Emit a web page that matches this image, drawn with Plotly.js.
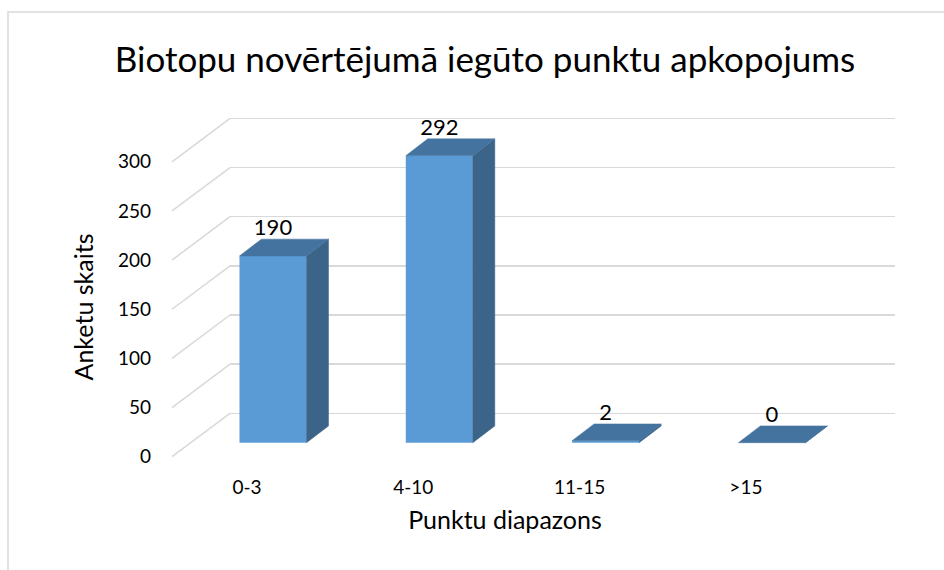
<!DOCTYPE html>
<html>
<head>
<meta charset="utf-8">
<script src="https://cdn.plot.ly/plotly-3.0.1.min.js"></script>
<style>html,body{margin:0;padding:0;background:#fff;}#chart{width:944px;height:570px;}</style>
</head>
<body>
<div id="chart"></div>
<script>
// ---- data ----
const categories = ['0-3', '4-10', '11-15', '>15'];
const counts = [190, 292, 2, 0];
const yTickVals = [0, 50, 100, 150, 200, 250, 300];
const chartTitle = 'Biotopu novērtējumā iegūto punktu apkopojums';
const xTitle = 'Punktu diapazons';
const yTitle = 'Anketu skaits';

// ---- geometry (px) ----
const W = 944, H = 570;
const pxPerUnit = 0.983;
const barStep = 166.3;
const barCenter0 = 273;      // px of first bar front-face centre
const barZeroPx = 442.7;     // px of value 0 in the bar front plane
const frontZeroPx = 456.7;   // px of value 0 at the front edge (tick labels)
const backZeroPx = 413.3;    // px of value 0 on the back wall
const frontXpx = 172, backXpx = 230, backRightPx = 895;
const labelCenter0 = 247;
const barWidth = 0.403;
const depthDx = 22 / barStep;            // bar depth (x units)
const depthDy = 16.8 / pxPerUnit;        // bar depth (value units)

const FONT = 'Lato, "Open Sans", sans-serif';
const front = '#5B9BD5', sideC = '#3C6488', topC = '#44739F';

const traces = [];
// invisible trace on back wall subplot
traces.push({x: [0.5], y: [0], xaxis: 'x', yaxis: 'y', mode: 'markers', marker: {opacity: 0}, hoverinfo: 'skip', showlegend: false});

// diagonal lines (side wall grid) in bar plane coordinates
const xF = (frontXpx - barCenter0) / barStep, xB = (backXpx - barCenter0) / barStep;
const offF = (barZeroPx - frontZeroPx) / pxPerUnit, offB = (barZeroPx - backZeroPx) / pxPerUnit;
const dX = [], dY = [];
yTickVals.forEach(t => { dX.push(xF, xB, null); dY.push(t + offF, t + offB, null); });
traces.push({x: dX, y: dY, xaxis: 'x2', yaxis: 'y2', mode: 'lines', line: {color: '#D9D9D9', width: 1.5}, hoverinfo: 'skip', showlegend: false});

// front faces
traces.push({type: 'bar', x: categories.map((c, i) => i), y: counts, width: barWidth, xaxis: 'x2', yaxis: 'y2',
  marker: {color: front, line: {width: 0}}, hoverinfo: 'skip', showlegend: false});

// side and top faces
counts.forEach((v, i) => {
  const r = i + barWidth / 2, l = i - barWidth / 2;
  traces.push({x: [r, r, r + depthDx, r + depthDx, r], y: [0, v, v + depthDy, depthDy, 0], xaxis: 'x2', yaxis: 'y2',
    mode: 'lines', fill: 'toself', fillcolor: sideC, line: {width: 0.5, color: sideC}, hoverinfo: 'skip', showlegend: false});
  traces.push({x: [l, r, r + depthDx, l + depthDx, l], y: [v, v, v + depthDy, v + depthDy, v], xaxis: 'x2', yaxis: 'y2',
    mode: 'lines', fill: 'toself', fillcolor: topC, line: {width: 0.5, color: topC}, hoverinfo: 'skip', showlegend: false});
});

// data labels
traces.push({x: categories.map((c, i) => i), y: counts.map(v => v + 27), text: counts.map(String), mode: 'text',
  textposition: 'middle center', textfont: {family: FONT, size: 22, color: '#000'}, xaxis: 'x2', yaxis: 'y2', hoverinfo: 'skip', showlegend: false});

// invisible trace on label axes
traces.push({x: [0], y: [0], xaxis: 'x3', yaxis: 'y3', mode: 'markers', marker: {opacity: 0}, hoverinfo: 'skip', showlegend: false});

const hidden = {showgrid: false, zeroline: false, showline: false, showticklabels: false, ticks: '', fixedrange: true};
const xDomL = 66;
const yDomTopPx = 44;

const layout = {
  width: W, height: H,
  margin: {l: 0, r: 0, t: 0, b: 0, pad: 0},
  paper_bgcolor: '#fff', plot_bgcolor: 'rgba(0,0,0,0)',
  font: {family: FONT, color: '#000'},
  showlegend: false,
  title: {text: chartTitle, x: 485 / W, xref: 'paper', xanchor: 'center', y: 1 - 60 / H, yref: 'paper', yanchor: 'middle',
    font: {family: FONT, size: 35, color: '#000'}},
  // back wall
  xaxis: Object.assign({}, hidden, {domain: [backXpx / W, backRightPx / W], range: [0, 1], anchor: 'y'}),
  yaxis: {domain: [0, 1], anchor: 'x', range: [(backZeroPx - H) / pxPerUnit, backZeroPx / pxPerUnit],
    tickmode: 'array', tickvals: yTickVals, showgrid: true, gridcolor: '#D9D9D9', gridwidth: 1.5,
    zeroline: false, showline: false, showticklabels: false, ticks: '', fixedrange: true},
  // bars plane
  xaxis2: Object.assign({}, hidden, {domain: [0, 1], anchor: 'y2', range: [-barCenter0 / barStep, (W - barCenter0) / barStep]}),
  yaxis2: Object.assign({}, hidden, {domain: [0, 1], anchor: 'x2', range: [(barZeroPx - H) / pxPerUnit, barZeroPx / pxPerUnit]}),
  // label axes
  xaxis3: {domain: [xDomL / W, 1], anchor: 'free', position: 1 - 474 / H,
    range: [(xDomL - labelCenter0) / barStep, (W - labelCenter0) / barStep],
    tickmode: 'array', tickvals: categories.map((c, i) => i), ticktext: categories,
    showgrid: false, zeroline: false, showline: false, ticks: '', automargin: false, fixedrange: true,
    tickfont: {family: FONT, size: 19, color: '#000'},
    title: {text: xTitle, standoff: 14, font: {family: FONT, size: 25, color: '#000'}}},
  yaxis3: {domain: [0, 1 - yDomTopPx / H], anchor: 'free', position: 151 / W,
    range: [(frontZeroPx - H) / pxPerUnit, (frontZeroPx - yDomTopPx) / pxPerUnit],
    tickmode: 'array', tickvals: yTickVals,
    showgrid: false, zeroline: false, showline: false, ticks: '', automargin: false, fixedrange: true,
    tickfont: {family: FONT, size: 19, color: '#000'},
    title: {text: yTitle, standoff: 16, font: {family: FONT, size: 25, color: '#000'}}},
  shapes: [{type: 'path', xref: 'paper', yref: 'paper',
    path: `M ${8 / W},0 L ${8 / W},${1 - 12 / H} L 1,${1 - 12 / H}`,
    line: {color: '#D9D9D9', width: 1.5}}]
};

Plotly.newPlot('chart', traces, layout, {displayModeBar: false, staticPlot: true});
</script>
</body>
</html>
